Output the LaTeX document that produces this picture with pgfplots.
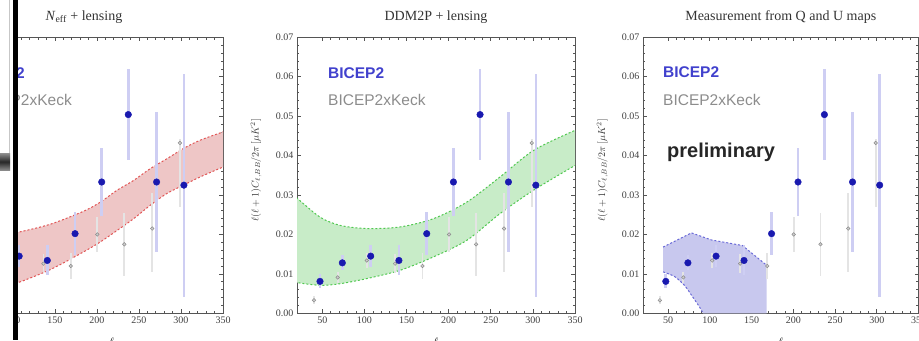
\documentclass[border=0pt]{standalone}
\usepackage{fontspec}
\setmainfont{Liberation Serif}
\newfontfamily\sansf{Liberation Sans}
\usepackage{pgfplots}
\pgfplotsset{compat=1.18}
\usepackage{pgfplotstable}

\definecolor{framec}{RGB}{85,85,85}
\definecolor{redfill}{RGB}{238,198,198}
\definecolor{reddash}{RGB}{225,85,85}
\definecolor{greenfill}{RGB}{200,236,200}
\definecolor{greendash}{RGB}{80,200,80}
\definecolor{bluefill}{RGB}{200,200,238}
\definecolor{bluedash}{RGB}{105,105,215}
\definecolor{bicepc}{RGB}{25,25,175}
\definecolor{bicepbar}{RGB}{206,206,243}
\definecolor{keckfill}{RGB}{205,205,205}
\definecolor{keckdraw}{RGB}{140,140,140}
\definecolor{keckbar}{RGB}{228,228,228}
\definecolor{legblue}{RGB}{65,65,205}
\definecolor{leggray}{RGB}{140,140,140}

% BICEP2 bandpowers
\pgfplotstableread{
l v e
47.3 0.0081 0.0018
73.8 0.0128 0.0019
107.5 0.0145 0.0028
141 0.0134 0.0038
174 0.0202 0.0055
205.7 0.0333 0.0085
237.3 0.0504 0.0115
271 0.0333 0.0178
303.5 0.0325 0.0283
}\bicep

% BICEP2 x Keck bandpowers (error plus ep, error minus em)
\pgfplotstableread{
l v ep em
40.2 0.0033 0.0010 0.0010
68.3 0.0091 0.0015 0.0015
102.8 0.0134 0.0020 0.0020
136.4 0.0126 0.0025 0.0025
168.9 0.0120 0.0032 0.0032
200.5 0.0200 0.0045 0.0045
232.6 0.0175 0.0080 0.0080
265.8 0.0215 0.0090 0.0111
298.7 0.0432 0.0010 0.0163
}\keck

% Neff + lensing band (upper u, lower d)
\pgfplotstableread{
l u d
80 0.0195 0.0062
105.2 0.0205 0.0077
144.7 0.0226 0.0111
184.3 0.0259 0.0156
204.1 0.0282 0.0181
223.9 0.0312 0.0210
243.7 0.0337 0.0240
263.5 0.0367 0.0274
283.3 0.0392 0.0304
303.0 0.0418 0.0325
322.9 0.0439 0.0346
350 0.0460 0.0371
365 0.0470 0.0385
}\redband

% DDM2P + lensing band (upper u, lower d)
\pgfplotstableread{
l u d
8 0.0312 0.0085
20 0.0292 0.0078
47.3 0.0244 0.0071
71.1 0.0223 0.0075
102.8 0.0215 0.0088
142.3 0.0219 0.0109
181.9 0.0240 0.0143
221.5 0.0282 0.0185
261.1 0.0346 0.0253
300.7 0.0413 0.0312
350 0.0464 0.0375
365 0.0475 0.0392
}\greenband

\pgfplotsset{
 panel/.style={
  scale only axis, height=276pt, anchor=south west,
  xmin=20, xmax=350, ymin=0, ymax=0.07,
  xtick={50,100,150,200,250,300,350},
  ytick={0,0.01,0.02,0.03,0.04,0.05,0.06,0.07},
  minor x tick num=4, minor y tick num=4,
  scaled y ticks=false,
  yticklabel style={/pgf/number format/fixed, /pgf/number format/fixed zerofill, /pgf/number format/precision=2},
  tick label style={font=\fontsize{10}{10}\selectfont, text=black!75, overlay},
  /pgf/number format/assume math mode=true,
  major tick length=4pt, minor tick length=2.2pt,
  axis line style={line width=0.8pt, framec},
  every tick/.style={framec, line width=0.6pt},
  title style={font=\fontsize{14}{14}\selectfont, at={(0.5,1)}, anchor=base, yshift=11pt, text=black!80},
  every axis y label/.style={at={(axis description cs:-0.1475,0.518)}, rotate=90, anchor=center, font=\fontsize{10}{10}\selectfont, text=black!80},
  every axis x label/.style={at={(axis description cs:0.5,0)}, anchor=north, yshift=-24pt, inner sep=0pt, font=\fontsize{11}{11}\selectfont, overlay},
  xlabel={$\ell$},
  ylabel={$\ell(\ell+1)C_{\ell,BB}/2\pi\,[\mu K^2]$},
 },
 dashedband/.style={smooth, line width=1pt, dash pattern=on 2pt off 2pt},
 keckplot/.style={only marks, mark=*, mark size=1.8pt,
  mark options={fill=keckfill, draw=keckdraw, line width=0.5pt},
  error bars/.cd, y dir=both, y explicit, error mark=none,
  error bar style={keckbar, line width=1.8pt}},
 bicepplot/.style={only marks, mark=*, mark size=3.3pt,
  mark options={fill=bicepc, draw=bicepc},
  error bars/.cd, y dir=both, y explicit, error mark=none,
  error bar style={bicepbar, line width=2.6pt}},
}

\begin{document}
\begin{tikzpicture}
\path (0,0) rectangle (919pt,340pt);

% ---------- Panel 1 (cut at the left) ----------
\begin{axis}[panel, at={(0.5pt,27pt)}, width=222.5pt, xmin=85.3,
  ylabel={}, yticklabels={},
  title style={at={(0.375,1)}},
  title={\textit{N}$_{\mathrm{eff}}$ + lensing}]
\addplot[fill=redfill, draw=none, smooth] coordinates {
 (80,0.0195) (105.2,0.0205) (144.7,0.0226) (184.3,0.0259) (204.1,0.0282)
 (223.9,0.0312) (243.7,0.0337) (263.5,0.0367) (283.3,0.0392) (303.0,0.0418)
 (322.9,0.0439) (350,0.0460) (365,0.0470)
 (365,0.0385) (350,0.0371) (322.9,0.0346) (303.0,0.0325) (283.3,0.0304)
 (263.5,0.0274) (243.7,0.0240) (223.9,0.0210) (204.1,0.0181) (184.3,0.0156)
 (144.7,0.0111) (105.2,0.0077) (80,0.0062)};
\addplot[dashedband, reddash] table[x=l,y=u] {\redband};
\addplot[dashedband, reddash] table[x=l,y=d] {\redband};
\addplot[keckplot] table[x=l,y=v,y error plus=ep,y error minus=em] {\keck};
\addplot[bicepplot] table[x=l,y=v,y error=e] {\bicep};
\end{axis}
\node[overlay, anchor=base east, inner sep=0pt, font=\sansf\bfseries\fontsize{15.5}{15.5}\selectfont, text=legblue] at (25pt,262pt) {BICEP2};
\node[overlay, anchor=base east, inner sep=0pt, font=\sansf\fontsize{15.5}{15.5}\selectfont, text=leggray] at (72pt,235pt) {BICEP2xKeck};
\fill[white] (0,0) rectangle (13pt,340pt);
\draw[black!22, line width=0.6pt] (9.5pt,340pt) -- (9.5pt,187pt);
\fill[black] (13pt,0) rectangle (18pt,340pt);
\shade[top color=black!45, bottom color=black!45, middle color=black!85] (0,170pt) rectangle (10pt,187pt);

% ---------- Panel 2 ----------
\begin{axis}[panel, at={(297pt,27pt)}, width=278pt, title={DDM2P + lensing}]
\addplot[fill=greenfill, draw=none, smooth] coordinates {
 (8,0.0312) (20,0.0292) (47.3,0.0244) (71.1,0.0223) (102.8,0.0215) (142.3,0.0219)
 (181.9,0.0240) (221.5,0.0282) (261.1,0.0346) (300.7,0.0413) (350,0.0464) (365,0.0475)
 (365,0.0392) (350,0.0375) (300.7,0.0312) (261.1,0.0253) (221.5,0.0185) (181.9,0.0143)
 (142.3,0.0109) (102.8,0.0088) (71.1,0.0075) (47.3,0.0071) (20,0.0078) (8,0.0085)};
\addplot[dashedband, greendash] table[x=l,y=u] {\greenband};
\addplot[dashedband, greendash] table[x=l,y=d] {\greenband};
\addplot[keckplot] table[x=l,y=v,y error plus=ep,y error minus=em] {\keck};
\addplot[bicepplot] table[x=l,y=v,y error=e] {\bicep};
\end{axis}
\node[anchor=base west, inner sep=0pt, font=\sansf\bfseries\fontsize{15.5}{15.5}\selectfont, text=legblue] at (328pt,262pt) {BICEP2};
\node[anchor=base west, inner sep=0pt, font=\sansf\fontsize{15.5}{15.5}\selectfont, text=leggray] at (328pt,235pt) {BICEP2xKeck};

% ---------- Panel 3 (cut at the right) ----------
\begin{axis}[panel, at={(643pt,27pt)}, width=275.5pt, title={Measurement from Q and U maps}]
\addplot[fill=bluefill, draw=none] coordinates {
 (44,0.0105) (44,0.0168) (78,0.0204) (102,0.0186) (139,0.0172) (168,0.0122)
 (168,0) (92,0) (88,0.0015) (80,0.0040) (70,0.0070) (58,0.0093)};
\addplot[bluedash, line width=1pt, dash pattern=on 2pt off 2pt] coordinates {
 (44,0.0168) (78,0.0204) (102,0.0186) (139,0.0172) (168,0.0122)};
\addplot[bluedash, smooth, line width=1pt, dash pattern=on 2pt off 2pt] coordinates {
 (44,0.0105) (58,0.0093) (70,0.0070) (80,0.0040) (88,0.0015) (92,0)};
\addplot[keckplot] table[x=l,y=v,y error plus=ep,y error minus=em] {\keck};
\addplot[bicepplot] table[x=l,y=v,y error=e] {\bicep};
\end{axis}
\node[anchor=base west, inner sep=0pt, font=\sansf\bfseries\fontsize{15.5}{15.5}\selectfont, text=legblue] at (663pt,263pt) {BICEP2};
\node[anchor=base west, inner sep=0pt, font=\sansf\fontsize{15.5}{15.5}\selectfont, text=leggray] at (663pt,235pt) {BICEP2xKeck};
\node[anchor=base west, inner sep=0pt, font=\sansf\bfseries\fontsize{20}{20}\selectfont, text=black!85] at (667pt,183pt) {preliminary};
\end{tikzpicture}
\end{document}
